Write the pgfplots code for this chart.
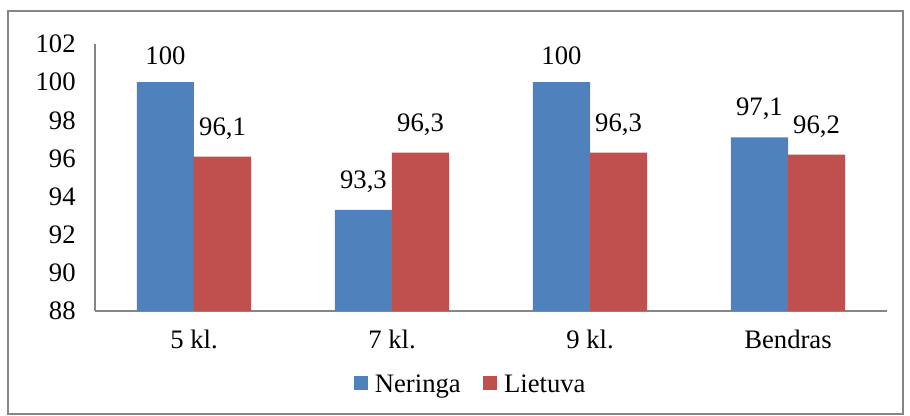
\documentclass[border=0pt]{standalone}
\usepackage{fontspec}
\setmainfont{Liberation Serif}
\usepackage{pgfplots}
\pgfplotsset{compat=1.18}
\definecolor{nerblue}{HTML}{4F81BD}
\definecolor{litred}{HTML}{C0504D}
\definecolor{axgray}{HTML}{868686}

\begin{document}
\begin{tikzpicture}[x=0.75pt,y=0.75pt]
% image is 910x416 px, 1px = 0.75pt, axis origin at px (95,311)
\useasboundingbox (-95,-105) rectangle (815,311);
\draw[axgray, line width=0.9pt] (-87,-103) rectangle (808,300);
\begin{axis}[
    at={(0,0)}, anchor=south west,
    scale only axis,
    width=594pt, height=200.25pt,
    xmin=-0.5, xmax=3.5,
    ymin=88, ymax=102,
    ytick={88,90,...,102},
    xtick=data,
    xticklabels={5 kl., 7 kl., 9 kl., Bendras},
    axis x line=bottom, axis y line=left,
    axis line style={-, axgray, line width=0.9pt},
    major tick length=0pt,
    tick label style={font=\fontsize{20}{23}\selectfont},
    yticklabel style={xshift=-11pt},
    xticklabel style={yshift=-11pt},
    /pgf/number format/assume math mode=true,
    ybar=0pt,
    bar width=0.288,
    nodes near coords,
    nodes near coords style={font=\fontsize{20}{23}\selectfont, yshift=9.5pt},
    /pgf/number format/.cd, use comma, fixed, precision=1,
    /pgfplots/.cd,
    legend columns=2,
    legend style={draw=none, at={(0.475,-0.275)}, anchor=center,
        font=\fontsize{20}{23}\selectfont,
        /tikz/every odd column/.append style={column sep=3pt},
        /tikz/every even column/.append style={column sep=15pt}},
    legend image code/.code={\fill[#1] (0pt,-4.5pt) rectangle (10.5pt,6pt);},
]
\addplot[draw=none, fill=nerblue] coordinates {(0,100) (1,93.3) (2,100) (3,97.1)};
\addplot[draw=none, fill=litred] coordinates {(0,96.1) (1,96.3) (2,96.3) (3,96.2)};
\legend{Neringa, Lietuva}
\end{axis}
\end{tikzpicture}
\end{document}
